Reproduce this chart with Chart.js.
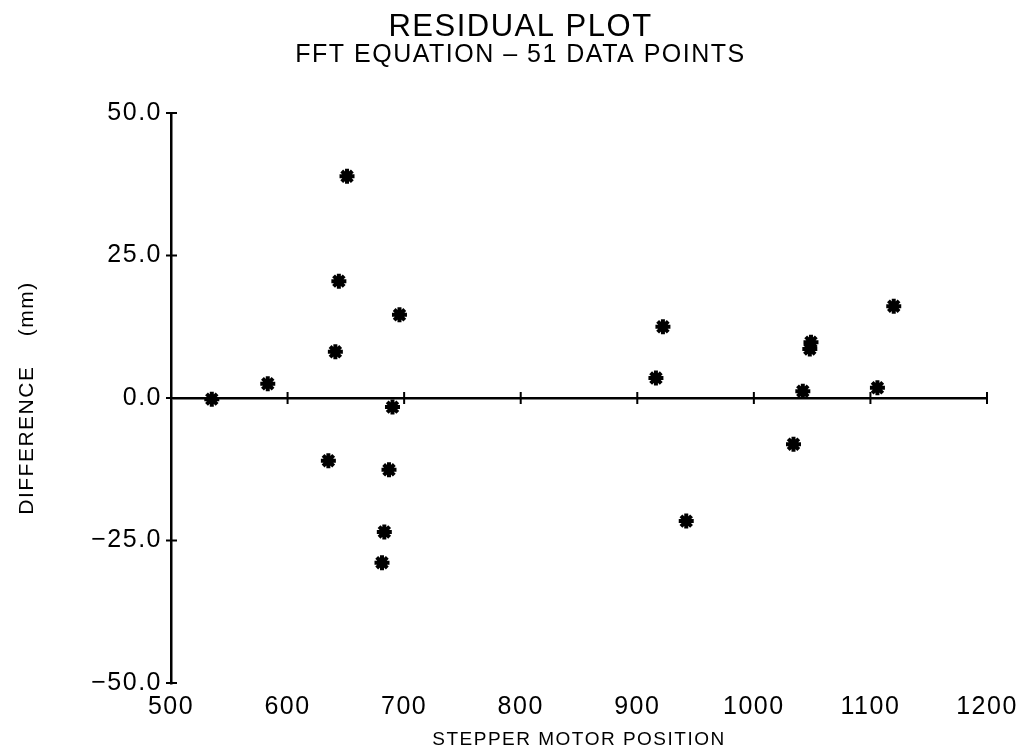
<!DOCTYPE html>
<html>
<head>
<meta charset="utf-8">
<script src="https://cdn.jsdelivr.net/npm/chart.js@4.4.1/dist/chart.umd.min.js"></script>
<style>
  html, body { margin: 0; padding: 0; background: #fff; }
</style>
</head>
<body>
<canvas id="residualChart" width="1027" height="754"></canvas>
<script>
// Дані (позиція кроковика / різниця в мм)
const positions = [535, 583, 635, 641, 644, 651, 681, 683, 687, 690, 696, 916, 922, 942, 1034, 1042, 1048, 1049, 1106, 1120];
const differences = [-0.2, 2.5, -11.0, 8.1, 20.5, 38.9, -28.9, -23.5, -12.6, -1.6, 14.6, 3.5, 12.5, -21.6, -8.1, 1.2, 8.6, 9.8, 1.8, 16.1];
const xTicks = [500, 600, 700, 800, 900, 1000, 1100, 1200];
const yTicks = [-50, -25, 0, 25, 50];

const FONT = "'Liberation Sans', Arial, sans-serif";

// Hershey-like spacing for all text
const spacing = {
  id: 'spacing',
  beforeLayout(chart) { chart.ctx.letterSpacing = '1.5px'; },
  beforeDraw(chart) { chart.ctx.letterSpacing = '1.5px'; }
};

// Ticks that cross the axes: on the zero line and on the left axis
const crossTicks = {
  id: 'crossTicks',
  beforeDatasetsDraw(chart) {
    const { ctx, scales: { x, y } } = chart;
    const y0 = y.getPixelForValue(0);
    ctx.save();
    ctx.strokeStyle = '#000';
    ctx.lineWidth = 2;
    ctx.beginPath();
    xTicks.forEach(v => {
      if (v === xTicks[0]) return;
      const px = x.getPixelForValue(v);
      ctx.moveTo(px, y0 - 6);
      ctx.lineTo(px, y0 + 6);
    });
    yTicks.forEach(v => {
      const py = y.getPixelForValue(v);
      ctx.moveTo(x.left - 5, py);
      ctx.lineTo(x.left + 6, py);
    });
    ctx.stroke();
    ctx.restore();
  }
};

const ctx = document.getElementById('residualChart').getContext('2d');
new Chart(ctx, {
  type: 'scatter',
  data: {
    datasets: [{
      data: positions.map((p, i) => ({ x: p, y: differences[i] })),
      pointStyle: 'star',
      radius: 7.5,
      borderWidth: 4,
      borderColor: '#000',
      backgroundColor: '#000'
    }]
  },
  options: {
    responsive: false,
    animation: false,
    layout: { padding: { top: 0, right: 0, bottom: 0, left: 14 } },
    scales: {
      x: {
        type: 'linear',
        min: 500,
        max: 1200,
        afterBuildTicks: s => { s.ticks = xTicks.map(v => ({ value: v })); },
        afterFit: s => { s.height = 71; },
        grid: { display: false, drawTicks: false },
        border: { display: false },
        ticks: {
          padding: 9,
          color: '#000',
          font: { family: FONT, size: 25 },
          callback: v => String(v)
        },
        title: {
          display: true,
          text: 'STEPPER MOTOR POSITION',
          color: '#000',
          font: { family: FONT, size: 19, lineHeight: 1.2 },
          padding: { top: 0, bottom: 3 }
        }
      },
      y: {
        type: 'linear',
        min: -50,
        max: 50,
        afterBuildTicks: s => { s.ticks = yTicks.map(v => ({ value: v })); },
        afterFit: s => { s.width = 157; },
        grid: {
          drawTicks: false,
          color: c => (c.tick && c.tick.value === 0 ? '#000' : 'rgba(0,0,0,0)'),
          lineWidth: 2.5
        },
        border: { display: true, color: '#000', width: 2.5 },
        ticks: {
          padding: 9,
          color: '#000',
          font: { family: FONT, size: 25 },
          callback: v => (v < 0 ? '\u2212' : '') + Math.abs(v).toFixed(1)
        },
        title: {
          display: true,
          text: 'DIFFERENCE    (mm)',
          color: '#000',
          font: { family: FONT, size: 21, lineHeight: 1.2 },
          padding: { top: 1, bottom: 0 }
        }
      },
      // empty right-hand strip so the plot ends at 1200 like the original
      yRight: {
        type: 'linear',
        position: 'right',
        min: -50,
        max: 50,
        afterFit: s => { s.width = 40; },
        grid: { display: false, drawTicks: false },
        border: { display: false },
        ticks: { display: false }
      }
    },
    plugins: {
      legend: { display: false },
      tooltip: { enabled: false },
      title: {
        display: true,
        text: 'RESIDUAL PLOT',
        color: '#000',
        font: { family: FONT, size: 31, weight: 'normal', lineHeight: 1 },
        padding: { top: 12, bottom: 0 }
      },
      subtitle: {
        display: true,
        text: 'FFT EQUATION \u2013 51 DATA POINTS',
        color: '#000',
        font: { family: FONT, size: 25, lineHeight: 1 },
        padding: { top: 0, bottom: 45 }
      }
    }
  },
  plugins: [spacing, crossTicks]
});
</script>
</body>
</html>
